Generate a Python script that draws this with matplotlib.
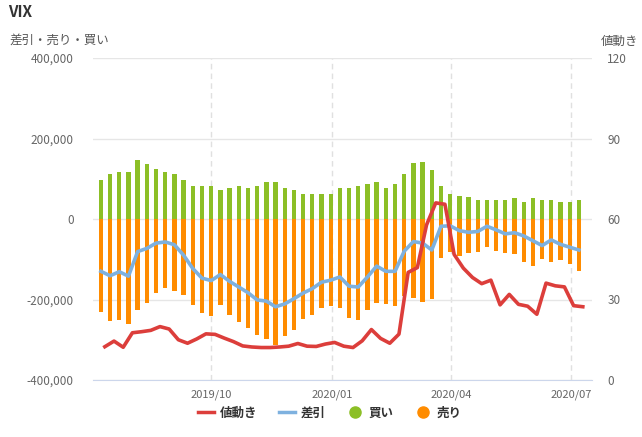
import matplotlib
matplotlib.use("Agg")
import matplotlib.pyplot as plt
from matplotlib.lines import Line2D
import pandas as pd

plt.rcParams['font.family'] = ['Noto Sans CJK JP', 'DejaVu Sans']

# ---- data ----
start_date = "2019-07-09"   # weekly (Tuesday) positions
n_weeks = 53
buy = [98000, 113000, 118000, 116000, 146000, 136000, 123000, 116000, 111000, 96000,
       83000, 83000, 83000, 73000, 78000, 83000, 78000, 83000, 91000, 93000,
       78000, 73000, 63000, 63000, 63000, 61000, 76000, 78000, 81000, 86000,
       91000, 78000, 86000, 113000, 138000, 141000, 121000, 81000, 63000, 58000,
       54000, 48000, 48000, 48000, 46000, 53000, 43000, 53000, 48000, 48000,
       43000, 41000, 48000]
sell = [232000, 254000, 252000, 260000, 227000, 209000, 184000, 172000, 179000, 190000,
        213000, 233000, 240000, 214000, 238000, 257000, 270000,
        287000, 297000, 312000, 290000, 275000, 249000, 239000, 222000, 215000,
        222000, 247000, 252000, 227000, 209000, 212000, 217000, 191000,
        196000, 205000, 198000, 98000, 81000, 91000, 85000, 81000, 69000, 79000,
        85000, 87000, 106000, 116000, 99000, 106000, 102000, 111000, 129000]
net = [-130000, -141000, -131000, -142000, -81000, -73000, -60000, -57000, -64000, -90000,
       -123000, -147000, -153000, -138000, -155000, -169000, -183000,
       -201000, -204000, -218000, -211000, -198000, -184000, -173000, -157000, -152000,
       -144000, -167000, -169000, -144000, -117000, -130000, -130000, -80000,
       -56000, -60000, -77000, -18000, -17000, -29000, -33000, -31000, -18000, -27000,
       -37000, -34000, -42000, -54000, -66000, -52000, -63000, -70000, -77000]
price = [12.4, 14.5, 12.2, 17.6, 18.0, 18.5, 19.9, 19.0, 15.0, 13.7,
         15.3, 17.2, 17.0, 15.6, 14.3, 12.7, 12.3, 12.1, 12.1, 12.3,
         12.6, 13.6, 12.6, 12.5, 13.4, 14.0, 12.6, 12.1, 14.6, 18.8,
         15.5, 13.7, 17.1, 40.1, 41.9, 57.8, 66.0, 65.5, 46.8, 41.7,
         38.2, 35.9, 37.2, 28.0, 31.9, 28.2, 27.5, 24.5, 36.1, 35.1,
         34.7, 27.7, 27.3]
left_ticks = [-400000, -200000, 0, 200000, 400000]
right_ticks = [0, 30, 60, 90, 120]
x_tick_dates = ["2019-10-01", "2020-01-01", "2020-04-01", "2020-07-01"]
x_tick_labels = ["2019/10", "2020/01", "2020/04", "2020/07"]
title = "VIX"
left_title = "差引・売り・買い"
right_title = "値動き"
legend_labels = ["値動き", "差引", "買い", "売り"]

# ---- colors ----
c_red = "#dc3e3b"
c_blue = "#7eb1df"
c_green = "#8cbf26"
c_orange = "#ff8c00"
c_text = "#666666"

dates = pd.date_range(start_date, periods=n_weeks, freq="7D")
price_dates = dates + pd.Timedelta(days=3)

fig = plt.figure(figsize=(6.42, 4.37), dpi=100)
ax = fig.add_axes([93/642, 1-380/437, (592-93)/642, (380-58)/437])

bw = 3.3
ax.bar(dates, buy, width=bw, color=c_green, zorder=2)
ax.bar(dates, [-s for s in sell], width=bw, color=c_orange, zorder=2)
ax.plot(dates, net, color=c_blue, lw=2.6, zorder=3, solid_joinstyle='round')

ax.set_ylim(-400000, 400000)
ax.set_yticks(left_ticks)
ax.set_yticklabels([f"{v:,}" for v in left_ticks])
ax.set_xlim(pd.Timestamp("2019-07-03"), pd.Timestamp("2020-07-17"))
ax.set_xticks(pd.to_datetime(x_tick_dates))
ax.set_xticklabels(x_tick_labels)

ax.set_axisbelow(True)
ax.yaxis.grid(True, color="#e6e6e6", lw=1)
ax.xaxis.grid(True, color="#e0e0e0", lw=1, ls=(0, (4, 3)))
for s in ["top", "right", "left"]:
    ax.spines[s].set_visible(False)
ax.spines["bottom"].set_color("#ccd6eb")
ax.tick_params(axis="y", length=0, pad=14, labelsize=8.5, labelcolor=c_text)
ax.tick_params(axis="x", length=0, pad=7, labelsize=8, labelcolor=c_text)

ax2 = ax.twinx()
ax2.plot(price_dates, price, color=c_red, lw=2.6, zorder=4, solid_joinstyle='round')
ax2.set_ylim(0, 120)
ax2.set_yticks(right_ticks)
for s in ax2.spines.values():
    s.set_visible(False)
ax2.tick_params(axis="y", length=0, pad=11, labelsize=8.5, labelcolor=c_text)

fig.text(8/642, 1-12/437, title, fontsize=11, fontweight="bold", color="#333333",
         va="center", ha="left")
fig.text(9/642, 1-40/437, left_title, fontsize=9, color="#555555", va="center", ha="left")
fig.text(601/642, 1-41/437, right_title, fontsize=9, color="#555555", va="center", ha="left")

handles = [
    Line2D([], [], color=c_red, lw=2.5),
    Line2D([], [], color=c_blue, lw=2.5),
    Line2D([], [], color=c_green, marker="o", ls="none", markersize=8),
    Line2D([], [], color=c_orange, marker="o", ls="none", markersize=8),
]
leg = fig.legend(handles, legend_labels, loc="center", bbox_to_anchor=(330/642, 1-413/437),
                 ncol=4, frameon=False, fontsize=9, handlelength=1.3, handletextpad=0.45,
                 columnspacing=1.7, labelcolor="#333333", prop={"weight": "bold", "size": 9})

fig.savefig("out.png", dpi=100)
